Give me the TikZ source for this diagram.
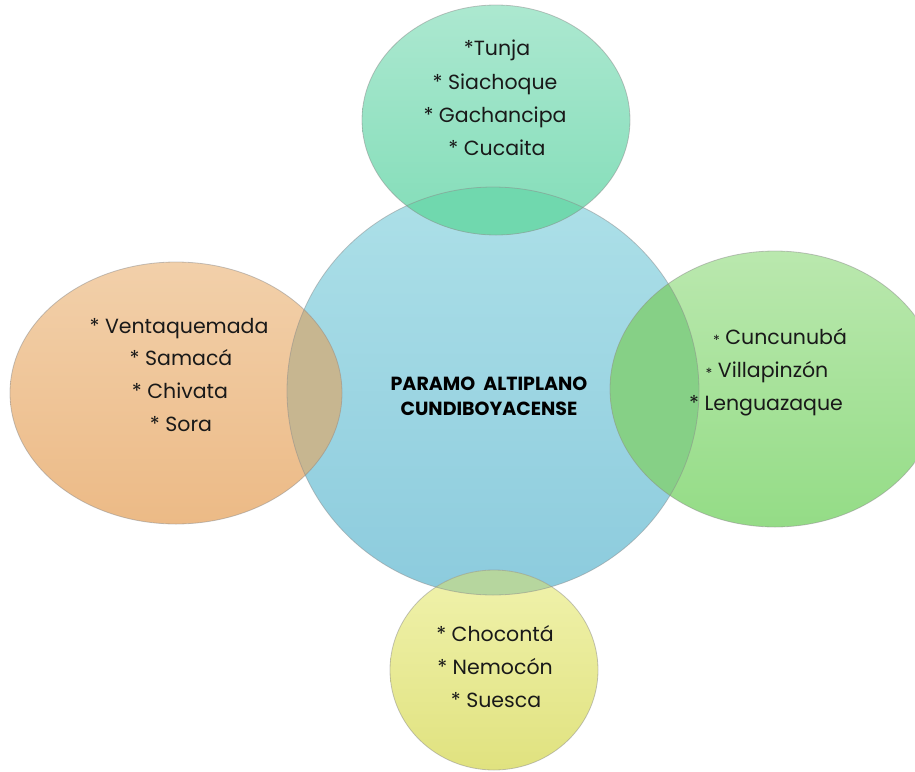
\documentclass[tikz,border=0pt]{standalone}
\usepackage{fontspec}
\setmainfont{Poppins}
\definecolor{cTop}{RGB}{173,224,232}
\definecolor{cBot}{RGB}{140,203,221}
\definecolor{tTop}{RGB}{172,232,208}
\definecolor{tBot}{RGB}{130,221,184}
\definecolor{lTop}{RGB}{242,208,170}
\definecolor{lBot}{RGB}{236,186,134}
\definecolor{rTop}{RGB}{186,232,174}
\definecolor{rBot}{RGB}{148,220,134}
\definecolor{bTop}{RGB}{240,242,172}
\definecolor{bBot}{RGB}{224,226,127}
\definecolor{tOv}{RGB}{112,216,174}
\definecolor{lOv}{RGB}{199,182,144}
\definecolor{rOv}{RGB}{134,208,134}
\definecolor{bOv}{RGB}{182,214,158}
\begin{document}
\begin{tikzpicture}[x=1pt,y=-1pt,
  lbl/.style={inner sep=0pt, text height=14pt, text depth=0pt, font=\fontsize{20.5}{24}\selectfont, text=black!90},
  ttl/.style={inner sep=0pt, text height=14pt, text depth=0pt, font=\fontsize{19}{22}\selectfont\bfseries, text=black},
  rim/.style={draw=black!45, draw opacity=0.5, line width=0.8pt}]
\useasboundingbox (0,0) rectangle (915,771);
\clip (0,0) rectangle (915,771);
% centre circle
\shade[top color=cTop, bottom color=cBot]
  (493,391) ellipse [x radius=206, y radius=204];
% satellites
\shade[top color=tTop, bottom color=tBot]
  (496,120) ellipse [x radius=134, y radius=115];
\shade[top color=lTop, bottom color=lBot]
  (176,393) ellipse [x radius=166, y radius=131];
\shade[top color=rTop, bottom color=rBot]
  (775,389) ellipse [x radius=165, y radius=138];
\shade[top color=bTop, bottom color=bBot]
  (494,670) ellipse [x radius=104, y radius=100];
% overlaps
\begin{scope}
  \clip (493,391) ellipse [x radius=206, y radius=204];
  \fill[tOv] (496,120) ellipse [x radius=134, y radius=115];
  \fill[lOv] (176,393) ellipse [x radius=166, y radius=131];
  \fill[rOv] (775,389) ellipse [x radius=165, y radius=138];
  \fill[bOv] (494,670) ellipse [x radius=104, y radius=100];
\end{scope}
% rims
\path[rim] (493,391) ellipse [x radius=206, y radius=204];
\path[rim] (496,120) ellipse [x radius=134, y radius=115];
\path[rim] (176,393) ellipse [x radius=166, y radius=131];
\path[rim] (775,389) ellipse [x radius=165, y radius=138];
\path[rim] (494,670) ellipse [x radius=104, y radius=100];
% centre title
\node[ttl] (c1) at (489,383) {PARAMO\ \ ALTIPLANO};
\node[ttl] (c2) at (489,408) {CUNDIBOYACENSE};
% top
\node[lbl] (t1) at (497,48) {*Tunja};
\node[lbl] (t2) at (495,82) {* Siachoque};
\node[lbl] (t3) at (495,115) {* Gachancipa};
\node[lbl] (t4) at (497,148) {* Cucaita};
% left
\node[lbl] (l1) at (179,326) {* Ventaquemada};
\node[lbl] (l2) at (181,358) {* Samacá};
\node[lbl] (l3) at (180,391) {* Chivata};
\node[lbl] (l4) at (181,424) {* Sora};
% right
\node[lbl] (r1) at (780,337) {\raisebox{-1pt}{\fontsize{14}{14}\selectfont*} Cuncunubá};
\node[lbl] (r2) at (767,370) {\raisebox{-1pt}{\fontsize{14}{14}\selectfont*} Villapinzón};
\node[lbl] (r3) at (766,403) {* Lenguazaque};
% bottom
\node[lbl] (b1) at (495,634) {* Chocontá};
\node[lbl] (b2) at (495,667) {* Nemocón};
\node[lbl] (b3) at (496,700) {* Suesca};
\end{tikzpicture}
\end{document}
